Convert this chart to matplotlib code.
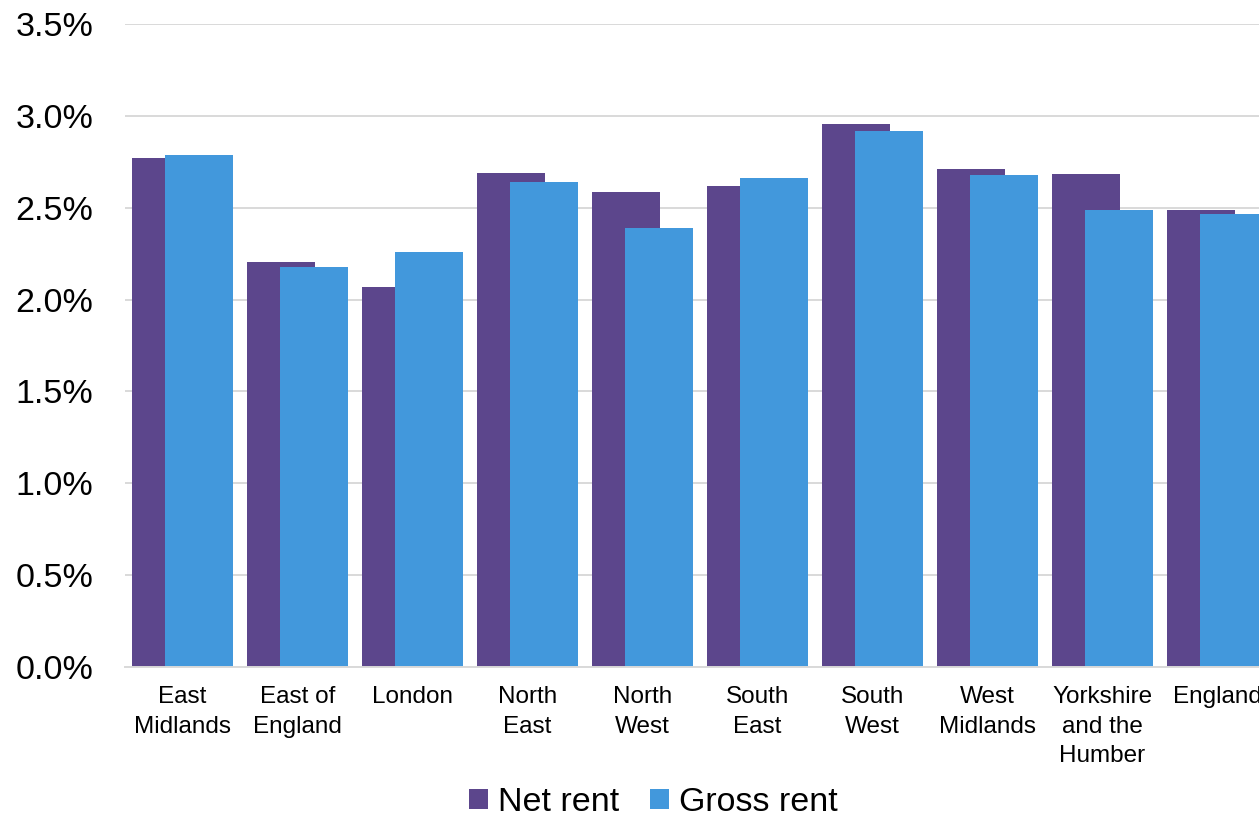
import matplotlib
matplotlib.use("Agg")
import matplotlib.pyplot as plt
import matplotlib.ticker as mticker
import numpy as np

plt.rcParams["font.family"] = ["Liberation Sans", "DejaVu Sans"]

REGIONS = [
    "East\nMidlands",
    "East of\nEngland",
    "London",
    "North\nEast",
    "North\nWest",
    "South\nEast",
    "South\nWest",
    "West\nMidlands",
    "Yorkshire\nand the\nHumber",
    "England",
]

NET_RENT   = [2.77, 2.205, 2.07, 2.69, 2.585, 2.62, 2.955, 2.71, 2.685, 2.49]
GROSS_RENT = [2.785, 2.175, 2.26, 2.64, 2.39, 2.66, 2.915, 2.68, 2.485, 2.465]

NET_COLOR   = "#5C468C"
GROSS_COLOR = "#4298DC"
GRID_COLOR  = "#D9D9D9"


def main():
    fig = plt.figure(figsize=(12.59, 8.18), dpi=100)
    ax = fig.add_axes([125 / 1259, 151 / 818, 1150 / 1259, 643 / 818])

    x = np.arange(len(REGIONS))
    width = 0.585
    offset = 0.1435

    ax.bar(x - offset, NET_RENT, width, color=NET_COLOR, label="Net rent", zorder=2)
    ax.bar(x + offset, GROSS_RENT, width, color=GROSS_COLOR, label="Gross rent", zorder=3)

    ax.set_xlim(-0.5, len(REGIONS) - 0.5)
    ax.set_ylim(0, 3.5)
    ax.yaxis.set_major_locator(mticker.MultipleLocator(0.5))
    ax.yaxis.set_major_formatter(mticker.FuncFormatter(lambda v, _: f"{v:.1f}%"))
    ax.grid(axis="y", color=GRID_COLOR, linewidth=1.4, zorder=0)
    ax.set_axisbelow(True)

    ax.set_xticks(x)
    ax.set_xticklabels(REGIONS, fontsize=17.5, linespacing=1.42)
    ax.tick_params(axis="x", length=0, pad=14)
    ax.tick_params(axis="y", length=0, pad=23, labelsize=24.5)

    for side in ["top", "right", "left"]:
        ax.spines[side].set_visible(False)
    ax.spines["bottom"].set_color(GRID_COLOR)
    ax.spines["bottom"].set_linewidth(1.4)
    ax.spines["bottom"].set_zorder(4)

    fig.legend(loc="center", bbox_to_anchor=(0.519, 0.019), ncol=2, frameon=False,
               fontsize=24.5, handlelength=0.55, handleheight=0.55,
               handletextpad=0.3, columnspacing=0.9)

    fig.savefig("out.png", dpi=100)


if __name__ == "__main__":
    main()
